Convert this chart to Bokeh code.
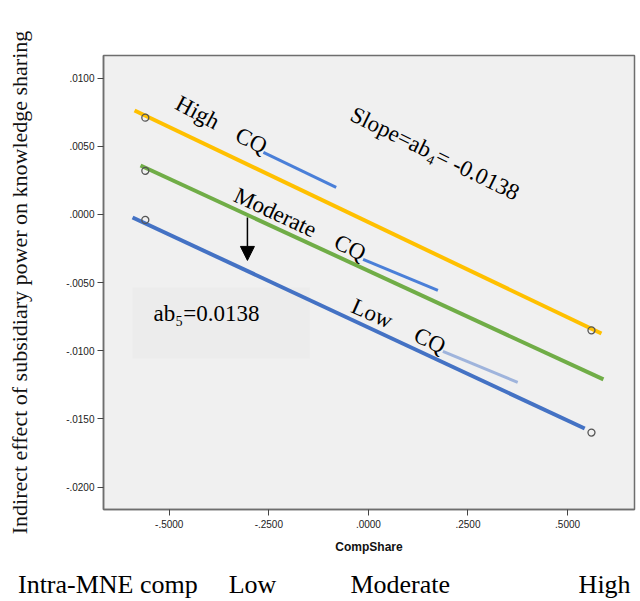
from bokeh.plotting import figure
from bokeh.models import (ColumnDataSource, FixedTicker, CustomJSTickFormatter,
                          Arrow, NormalHead, Range1d, LinearAxis)
from bokeh.core.properties import value
from bokeh.embed import file_html
from bokeh.resources import INLINE

# ---- data ----
x_ticks = [-0.5, -0.25, 0.0, 0.25, 0.5]
y_ticks = [-0.02, -0.015, -0.01, -0.005, 0.0, 0.005, 0.01]

# observed points (circles)
pts_x_high = [-0.56, 0.56]
pts_y_high = [0.0071, -0.0085]
pts_x_mod = [-0.56]
pts_y_mod = [0.0032]
pts_x_low = [-0.56, 0.56]
pts_y_low = [-0.0004, -0.0160]

# drawn regression lines for each CQ level
high_line_x = [-0.587, 0.585]
high_line_y = [0.00763, -0.00873]
mod_line_x = [-0.572, 0.590]
mod_line_y = [0.00359, -0.01210]
low_line_x = [-0.592, 0.543]
low_line_y = [-0.00022, -0.01570]

# bottom category captions (centres on the CompShare scale)
bottom_labels = ["Intra-MNE comp", "Low", "Moderate", "High"]
bottom_label_pos = [-0.654, -0.291, 0.080, 0.593]

SERIF = value("Liberation Serif")

p = figure(width=640, height=601, output_backend="svg", toolbar_location=None,
           x_range=Range1d(-0.665, 0.668), y_range=Range1d(-0.02164, 0.01166),
           min_border_left=103, min_border_right=6, min_border_top=55,
           min_border_bottom=92)
p.background_fill_color = "#f0f0f0"
p.border_fill_color = "white"
p.outline_line_color = "#6e6e6e"
p.outline_line_width = 1.5
p.grid.visible = False

fmt = CustomJSTickFormatter(code="""
let s = tick.toFixed(4);
s = s.replace('0.', '.');
return s;
""")
for ax, ticks in ((p.xaxis[0], x_ticks), (p.yaxis[0], y_ticks)):
    ax.ticker = FixedTicker(ticks=ticks)
    ax.formatter = fmt
    ax.minor_tick_line_color = None
    ax.major_tick_out = 6
    ax.major_tick_in = 0
    ax.axis_line_color = "#6e6e6e"
    ax.axis_line_width = 1.5
    ax.major_tick_line_color = "#444444"
    ax.major_label_text_font = "Liberation Sans"
    ax.major_label_text_font_size = "10px"
    ax.major_label_text_color = "#222222"

p.xaxis.axis_label = "CompShare"
p.xaxis.axis_label_text_font = "Liberation Sans"
p.xaxis.axis_label_text_font_style = "bold"
p.xaxis.axis_label_text_font_size = "12px"
p.xaxis.axis_label_text_color = "#111111"
p.xaxis.axis_label_standoff = 9
p.xaxis.major_label_standoff = 4

p.yaxis.axis_label = "Indirect effect of subsidiary power on knowledge sharing"
p.yaxis.axis_label_text_font = "Liberation Serif"
p.yaxis.axis_label_text_font_style = "normal"
p.yaxis.axis_label_text_font_size = "22px"
p.yaxis.axis_label_text_color = "#111111"
p.yaxis.axis_label_standoff = 31
p.yaxis.major_label_standoff = 3

# second (caption) axis below for the Intra-MNE competition levels
cap_axis = LinearAxis(
    ticker=FixedTicker(ticks=bottom_label_pos),
    formatter=CustomJSTickFormatter(args=dict(labels=bottom_labels),
                                    code="return labels[index];"),
    axis_line_color=None, major_tick_line_color=None, minor_tick_line_color=None,
    major_label_text_font="Liberation Serif", major_label_text_font_size="26px",
    major_label_text_color="black", major_label_standoff=7,
)
p.add_layout(cap_axis, "below")

# faint text-box background behind ab5 label
p.quad(left=[-0.592], right=[-0.147], top=[-0.00535], bottom=[-0.01056],
       fill_color="#ececec", line_color=None)

# lines
p.line(high_line_x, high_line_y, line_color="#ffc000", line_width=4, line_cap="butt")
p.line(mod_line_x, mod_line_y, line_color="#70ad47", line_width=4, line_cap="butt")
p.line(low_line_x, low_line_y, line_color="#4472c4", line_width=4, line_cap="butt")

# observed points
for xs, ys in ((pts_x_high, pts_y_high), (pts_x_mod, pts_y_mod), (pts_x_low, pts_y_low)):
    p.scatter(xs, ys, marker="circle", size=7, fill_color=None,
              line_color="#555555", line_width=1.3)

# CQ pointer strokes
p.line([-0.2636, -0.0809], [0.00455, 0.00198], line_color="#4a7fd8", line_width=3)
p.line([-0.0133, 0.1745], [-0.00330, -0.00557], line_color="#4a7fd8", line_width=3)
p.line([0.1870, 0.3748], [-0.01005, -0.01232], line_color="#9fb4dc", line_width=3)

# rotated annotation texts
ann = ColumnDataSource(dict(
    x=[-0.4289, -0.2937, 0.1670, -0.2336, -0.0458, 0.0093, 0.1545],
    y=[0.00748, 0.00543, 0.00447, 0.000147, -0.00242, -0.00726, -0.00924],
    t=["High", "CQ", "Slope=ab\u2084= -0.0138", "Moderate", "CQ", "Low", "CQ"],
    a=[-28, -26, -26, -25, -26, -24, -26],
))
p.text(x="x", y="y", text="t", angle="a", angle_units="deg", source=ann,
       text_font=SERIF, text_font_size="23px", text_align="center",
       text_baseline="middle", text_color="black")

p.text(x=[-0.4064], y=[-0.00726], text=["ab\u2085=0.0138"], text_font=SERIF,
       text_font_size="23px", text_align="center", text_baseline="middle",
       text_color="black")

# arrow
p.add_layout(Arrow(end=NormalHead(size=14, fill_color="black", line_color="black"),
                   x_start=-0.3037, y_start=-0.00022, x_end=-0.3037, y_end=-0.00337,
                   line_color="black", line_width=1.5))

open("out.html", "w").write(file_html(p, INLINE))
